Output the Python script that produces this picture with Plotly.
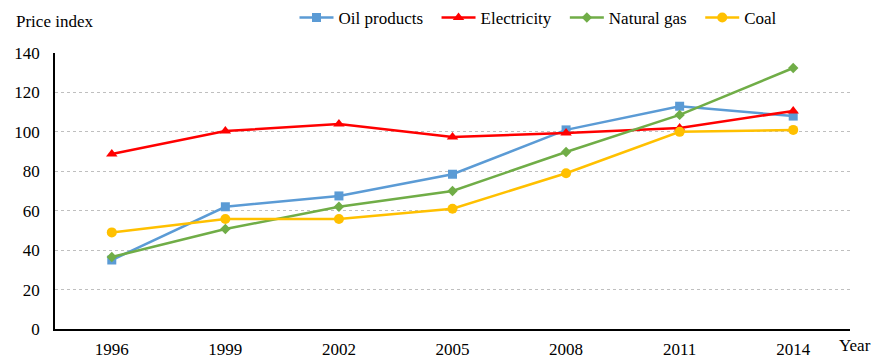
import plotly.graph_objects as go

years = ["1996", "1999", "2002", "2005", "2008", "2011", "2014"]
oil = [35, 62, 67.5, 78.5, 101, 113, 108]
electricity = [88.8, 100.4, 104, 97.4, 99.4, 102, 110.6]
natural_gas = [36.5, 50.7, 62, 70, 89.8, 108.6, 132.4]
coal = [49, 55.8, 55.8, 61, 79, 100, 101]

series = [
    ("Oil products", oil, "#5B9BD5", "square", 9),
    ("Electricity", electricity, "#FF0000", "triangle-up", 10),
    ("Natural gas", natural_gas, "#70AD47", "diamond", 8),
    ("Coal", coal, "#FFC000", "circle", 10),
]

fig = go.Figure()
for name, vals, color, sym, size in series:
    fig.add_trace(go.Scatter(
        x=years, y=vals, name=name + "\u00a0\u00a0", mode="lines+markers",
        line=dict(color=color, width=2.5),
        marker=dict(symbol=sym, size=size, color=color),
    ))

font = "Liberation Serif"
L, R, T, B = 55, 25, 53, 29
fig.update_layout(
    width=875, height=358,
    margin=dict(l=L, r=R, t=T, b=B, autoexpand=False),
    paper_bgcolor="white", plot_bgcolor="white",
    font=dict(family=font, size=17, color="black"),
    showlegend=True,
    legend=dict(orientation="h", x=294.5 / 875, y=1.0, xref="container", yref="container",
                xanchor="left", yanchor="top", font=dict(size=17, family=font),
                itemwidth=34, traceorder="normal", tracegroupgap=0),
    xaxis=dict(type="category", range=[-0.5, 6.5], showgrid=False, automargin=False,
               showline=True, linecolor="black", linewidth=1.5,
               ticks="", tickfont=dict(size=17, family=font), ticklabelstandoff=4),
    yaxis=dict(range=[0, 140], dtick=20, showgrid=True, gridcolor="#bfbfbf",
               griddash="dot", gridwidth=1, zeroline=False, automargin=False,
               showline=True, linecolor="black", linewidth=1.5,
               ticks="", tickfont=dict(size=17, family=font), ticklabelstandoff=10),
)
pw = 875 - L - R
ph = 358 - T - B
def px(x):
    return (x - L) / pw
def py(y):
    return (358 - B - y) / ph
fig.add_annotation(text="Price index", x=px(14), y=py(22), xref="paper", yref="paper",
                   xanchor="left", yanchor="middle", showarrow=False,
                   font=dict(size=17, family=font))
fig.add_annotation(text="Year", x=px(837), y=py(345), xref="paper", yref="paper",
                   xanchor="left", yanchor="middle", showarrow=False,
                   font=dict(size=17, family=font))

fig.write_html("out.html")
